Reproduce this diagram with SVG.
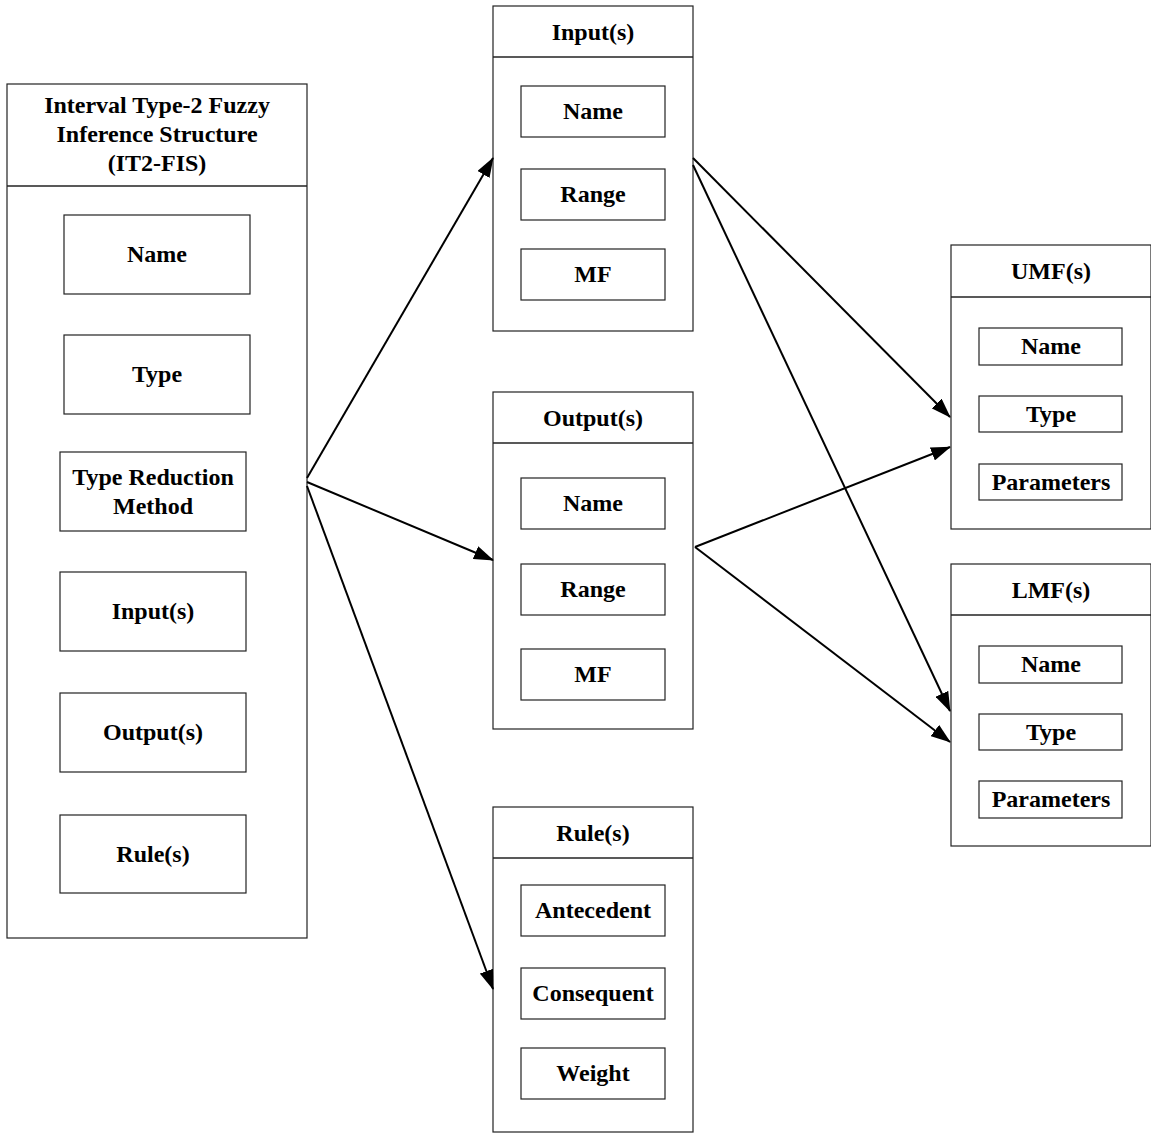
<svg xmlns="http://www.w3.org/2000/svg" width="1151" height="1133" viewBox="0 0 1151 1133">
<style>
.c{fill:#fff;stroke:#222;stroke-width:1.2}
.b{fill:#fff;stroke:#222;stroke-width:1.2}
.d{stroke:#222;stroke-width:1.5}
text{font-family:"Liberation Serif","Times New Roman",serif;font-weight:bold;font-size:24px;fill:#000;text-anchor:middle}
.e{stroke:#000;stroke-width:2;fill:none;marker-end:url(#a)}
</style>
<defs>
<marker id="a" markerWidth="20" markerHeight="14" refX="19" refY="7" orient="auto" markerUnits="userSpaceOnUse">
<path d="M0,0 L20,7 L0,14 Z" fill="#000"/>
</marker>
</defs>
<rect width="1151" height="1133" fill="#fff"/>
<g id="it2fis">
<rect class="c" x="7" y="84" width="300" height="854"/>
<line class="d" x1="7" y1="186" x2="307" y2="186"/>
<text x="157" y="113">Interval Type-2 Fuzzy</text>
<text x="157" y="142">Inference Structure</text>
<text x="157" y="171">(IT2-FIS)</text>
<rect class="b" x="64" y="215" width="186" height="79"/>
<text x="157" y="262">Name</text>
<rect class="b" x="64" y="335" width="186" height="79"/>
<text x="157" y="382">Type</text>
<rect class="b" x="60" y="452" width="186" height="79"/>
<text x="153" y="485">Type Reduction</text>
<text x="153" y="514">Method</text>
<rect class="b" x="60" y="572" width="186" height="79"/>
<text x="153" y="619">Input(s)</text>
<rect class="b" x="60" y="693" width="186" height="79"/>
<text x="153" y="740">Output(s)</text>
<rect class="b" x="60" y="815" width="186" height="78"/>
<text x="153" y="862">Rule(s)</text>
</g>
<g id="inputs">
<rect class="c" x="493" y="6" width="200" height="325"/>
<line class="d" x1="493" y1="57" x2="693" y2="57"/>
<text x="593" y="40">Input(s)</text>
<rect class="b" x="521" y="86" width="144" height="51"/>
<text x="593" y="119">Name</text>
<rect class="b" x="521" y="169" width="144" height="51"/>
<text x="593" y="202">Range</text>
<rect class="b" x="521" y="249" width="144" height="51"/>
<text x="593" y="282">MF</text>
</g>
<g id="outputs">
<rect class="c" x="493" y="392" width="200" height="337"/>
<line class="d" x1="493" y1="443" x2="693" y2="443"/>
<text x="593" y="426">Output(s)</text>
<rect class="b" x="521" y="478" width="144" height="51"/>
<text x="593" y="511">Name</text>
<rect class="b" x="521" y="564" width="144" height="51"/>
<text x="593" y="597">Range</text>
<rect class="b" x="521" y="649" width="144" height="51"/>
<text x="593" y="682">MF</text>
</g>
<g id="rules">
<rect class="c" x="493" y="807" width="200" height="325"/>
<line class="d" x1="493" y1="858" x2="693" y2="858"/>
<text x="593" y="841">Rule(s)</text>
<rect class="b" x="521" y="885" width="144" height="51"/>
<text x="593" y="918">Antecedent</text>
<rect class="b" x="521" y="968" width="144" height="51"/>
<text x="593" y="1001">Consequent</text>
<rect class="b" x="521" y="1048" width="144" height="51"/>
<text x="593" y="1081">Weight</text>
</g>
<g id="umf">
<rect class="c" x="951" y="245" width="200" height="284"/>
<line class="d" x1="951" y1="297" x2="1151" y2="297"/>
<text x="1051" y="279">UMF(s)</text>
<rect class="b" x="979" y="328" width="143" height="37"/>
<text x="1051" y="354">Name</text>
<rect class="b" x="979" y="396" width="143" height="36"/>
<text x="1051" y="422">Type</text>
<rect class="b" x="979" y="464" width="143" height="36"/>
<text x="1051" y="490">Parameters</text>
</g>
<g id="lmf">
<rect class="c" x="951" y="564" width="200" height="282"/>
<line class="d" x1="951" y1="615" x2="1151" y2="615"/>
<text x="1051" y="598">LMF(s)</text>
<rect class="b" x="979" y="646" width="143" height="37"/>
<text x="1051" y="672">Name</text>
<rect class="b" x="979" y="714" width="143" height="36"/>
<text x="1051" y="740">Type</text>
<rect class="b" x="979" y="781" width="143" height="37"/>
<text x="1051" y="807">Parameters</text>
</g>
<g id="connectors">
<line class="e" x1="307" y1="478" x2="493" y2="158"/>
<line class="e" x1="307" y1="482" x2="493" y2="560"/>
<line class="e" x1="307" y1="486" x2="493" y2="989"/>
<line class="e" x1="693" y1="158" x2="950" y2="417"/>
<line class="e" x1="693" y1="165" x2="950" y2="711"/>
<line class="e" x1="695" y1="547" x2="950" y2="447"/>
<line class="e" x1="695" y1="547" x2="950" y2="742"/>
</g>
</svg>
